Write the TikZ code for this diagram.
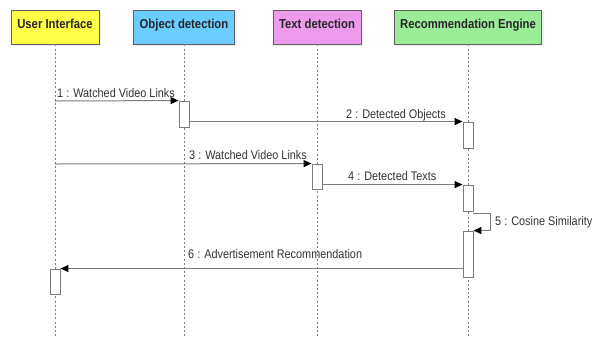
\documentclass[tikz,border=0pt]{standalone}
\usepackage{fontspec}
\setmainfont{Liberation Sans}[FakeStretch=0.87]
\usetikzlibrary{arrows.meta,shadows}

\definecolor{uiyellow}{RGB}{255,255,72}
\definecolor{odblue}{RGB}{106,204,255}
\definecolor{tdpink}{RGB}{238,155,238}
\definecolor{regreen}{RGB}{155,236,150}
\definecolor{edge}{RGB}{95,95,95}
\definecolor{wire}{RGB}{125,125,125}

\tikzset{
  x=1pt, y=-1pt,
  header/.style={draw=edge, line width=0.9pt, minimum height=34pt, inner sep=0pt,
    text height=10pt, text depth=8pt, font=\fontsize{13}{15}\selectfont\bfseries,
    text=black!85,
    drop shadow={opacity=0.12, shadow xshift=2pt, shadow yshift=-2pt}},
  lifeline/.style={draw=wire, line width=0.8pt, dash pattern=on 2pt off 2.2pt},
  actbox/.style={draw=wire, fill=white, line width=0.9pt, minimum width=10pt, inner sep=0pt},
  msg/.style={draw=wire, line width=1pt, -{Triangle[length=8pt,width=7pt,black]}, shorten >=0pt},
  msglabel/.style={font=\fontsize{12.5}{14}\selectfont, text=black!80, inner sep=0pt, anchor=base west},
}

\begin{document}
\begin{tikzpicture}
\useasboundingbox (0,0) rectangle (607,338);

% participants
\node[header, fill=uiyellow, minimum width=88pt] (ui) at (55,27) {User Interface};
\node[header, fill=odblue, minimum width=101pt] (od) at (184,27) {Object detection};
\node[header, fill=tdpink, minimum width=88pt] (td) at (317,27) {Text detection};
\node[header, fill=regreen, minimum width=147pt] (re) at (468,27) {Recommendation Engine};

% lifeline ends
\coordinate (uiend) at (55,338);
\coordinate (odend) at (184,338);
\coordinate (tdend) at (317,338);
\coordinate (reend) at (468,338);

\draw[lifeline] (ui.south) -- (uiend);
\draw[lifeline] (od.south) -- (odend);
\draw[lifeline] (td.south) -- (tdend);
\draw[lifeline] (re.south) -- (reend);

% activation bars
\node[actbox, minimum height=26pt] (a1) at (184,114) {};
\node[actbox, minimum height=26pt] (a2) at (468,135) {};
\node[actbox, minimum height=25pt] (a3) at (317,176.5) {};
\node[actbox, minimum height=26pt] (a4) at (468,198) {};
\node[actbox, minimum height=46pt] (a5) at (468,254) {};
\node[actbox, minimum height=25pt] (a6) at (55,281.5) {};

% message 1
\coordinate (m1) at (55,101);
\draw[msg] (m1) -- (a1.north west);
\node[msglabel] (l1) at (57,97) {1 : Watched Video Links};

% message 2
\draw[msg] (a1.east |- a2.north) -- (a2.north west);
\node[msglabel] (l2) at (346,118) {2 : Detected Objects};

% message 3
\coordinate (m3) at (55,164);
\draw[msg] (m3) -- (a3.north west);
\node[msglabel] (l3) at (189,159) {3 : Watched Video Links};

% message 4
\draw[msg] (a3.east |- a4.north) -- (a4.north west);
\node[msglabel] (l4) at (348,180) {4 : Detected Texts};

% message 5 (self call)
\coordinate (m5) at (473,213);
\draw[msg] (m5) -- ++(17,0) |- (a5.north east);
\node[msglabel] (l5) at (495,225) {5 : Cosine Similarity};

% message 6
\draw[msg] (a5.west |- a6.north) -- (a6.north east);
\node[msglabel] (l6) at (188,258) {6 : Advertisement Recommendation};

\end{tikzpicture}
\end{document}
